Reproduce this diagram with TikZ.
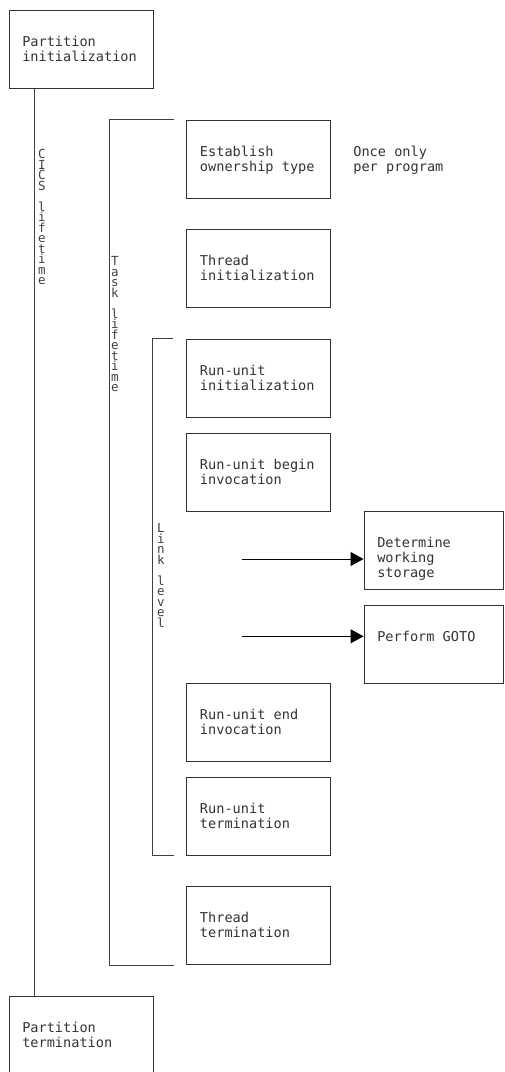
\documentclass[tikz,border=0pt]{standalone}
\usepackage{fontspec}
\setmonofont{DejaVu Sans Mono}
\usetikzlibrary{arrows.meta,positioning}

\begin{document}
\begin{tikzpicture}[x=1pt, y=-1pt,
  box/.style={draw=black!80, line width=0.9pt, minimum width=144pt, minimum height=78pt, inner sep=0pt},
  txt/.style={anchor=north west, align=left, inner sep=0pt, xshift=13.5pt, yshift=-26pt, font=\ttfamily\fontsize{13.6}{15}\selectfont, text=black!80},
  vtxt/.style={anchor=north, align=center, inner sep=0pt, font=\ttfamily\fontsize{12.5}{10.5}\selectfont, text=black!75},
  brk/.style={draw=black!75, line width=0.9pt},
  arr/.style={draw=black, line width=0.9pt, -{Triangle[length=13pt,width=14pt]}}]

\useasboundingbox (0,0) rectangle (505,1072);

% partition level
\node[box] (pinit) at (81,49.5) {};
\node[txt] (pinit-t) at (pinit.north west) {Partition\\initialization};
\node[box] (pterm) at (81,1035) {};
\node[txt] (pterm-t) at (pterm.north west) {Partition\\termination};

% task level
\node[box] (estab) at (258.7,159.2) {};
\node[txt] (estab-t) at (estab.north west) {Establish\\ownership type};
\node[txt, xshift=8.5pt] (once) at (estab.north east) {Once only\\per program};
\node[box] (thinit) at (258.7,268.5) {};
\node[txt] (thinit-t) at (thinit.north west) {Thread\\initialization};
\node[box] (thterm) at (258.7,925.5) {};
\node[txt] (thterm-t) at (thterm.north west) {Thread\\termination};

% run-unit level
\node[box] (ruinit) at (258.7,378) {};
\node[txt] (ruinit-t) at (ruinit.north west) {Run-unit\\initialization};
\node[box] (rubegin) at (258.7,472) {};
\node[txt] (rubegin-t) at (rubegin.north west) {Run-unit begin\\invocation};
\node[box] (ruend) at (258.7,722) {};
\node[txt] (ruend-t) at (ruend.north west) {Run-unit end\\invocation};
\node[box] (ruterm) at (258.7,816) {};
\node[txt] (ruterm-t) at (ruterm.north west) {Run-unit\\termination};

% link level
\node[box, minimum width=139pt] (dws) at (433.5,550.4) {};
\node[txt] (dws-t) at (dws.north west) {Determine\\working\\storage};
\node[box, minimum width=139pt] (goto) at (433.5,644) {};
\node[txt] (goto-t) at (goto.north west) {Perform GOTO};

% lifetime lines
\coordinate (cicsx) at (34,0);
\draw[brk] (pinit.south -| cicsx) -- (pterm.north -| cicsx);
\draw[brk] ([xshift=-12.7pt]estab.north west) -| ([xshift=-76.7pt]thterm.south west) -- ([xshift=-12.7pt]thterm.south west);
\draw[brk] ([xshift=-13.7pt]ruinit.north west) -| ([xshift=-34pt]ruterm.south west) -- ([xshift=-12.7pt]ruterm.south west);

\node[vtxt] (cics) at (42,149.5) {C\\I\\C\\S\\[10.5pt]l\\i\\f\\e\\t\\i\\m\\e};
\node[vtxt] (task) at (115,256.5) {T\\a\\s\\k\\[10.5pt]l\\i\\f\\e\\t\\i\\m\\e};
\node[vtxt] (link) at (161,523.5) {L\\i\\n\\k\\[10.5pt]l\\e\\v\\e\\l};

% calls
\coordinate (a1) at (241.7,559);
\coordinate (a2) at (241.7,636.3);
\draw[arr] (a1) -- (a1 -| dws.west);
\draw[arr] (a2) -- (a2 -| goto.west);

\end{tikzpicture}
\end{document}
